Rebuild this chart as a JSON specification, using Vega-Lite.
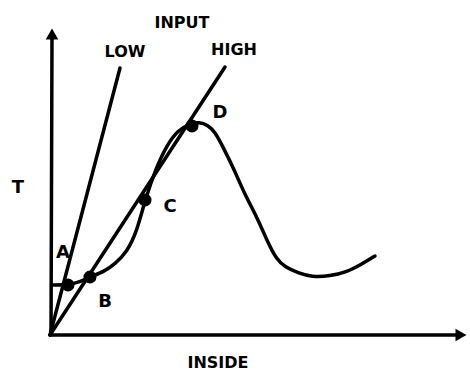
{
  "$schema": "https://vega.github.io/schema/vega-lite/v6.json",
  "width": 470,
  "height": 375,
  "autosize": {"type": "fit", "contains": "padding"},
  "padding": 0,
  "background": "white",
  "config": {"view": {"stroke": null}},
  "datasets": {
    "axes": [
      {"axis": "y", "i": 0, "x": 1, "y": 0},
      {"axis": "y", "i": 1, "x": 2, "y": 298},
      {"axis": "x", "i": 0, "x": 0, "y": 0},
      {"axis": "x", "i": 1, "x": 410, "y": 0}
    ],
    "arrows": [
      {"shape": "triangle-up", "x": 2, "y": 301},
      {"shape": "triangle-right", "x": 411, "y": 0}
    ],
    "rays": [
      {"input": "LOW", "i": 0, "x": 0, "y": 0},
      {"input": "LOW", "i": 1, "x": 70, "y": 267},
      {"input": "HIGH", "i": 0, "x": 0, "y": 0},
      {"input": "HIGH", "i": 1, "x": 175, "y": 268}
    ],
    "curve": [
      {"x": 3, "y": 50},
      {"x": 18, "y": 50},
      {"x": 30, "y": 53},
      {"x": 40, "y": 58},
      {"x": 55, "y": 64},
      {"x": 65, "y": 71},
      {"x": 77, "y": 83},
      {"x": 87, "y": 104},
      {"x": 95, "y": 135},
      {"x": 106, "y": 167},
      {"x": 117, "y": 190},
      {"x": 128, "y": 205},
      {"x": 140, "y": 211},
      {"x": 149, "y": 213},
      {"x": 158, "y": 210},
      {"x": 165, "y": 203},
      {"x": 173, "y": 188},
      {"x": 183, "y": 168},
      {"x": 195, "y": 140},
      {"x": 207, "y": 118},
      {"x": 218, "y": 92},
      {"x": 227, "y": 75},
      {"x": 235, "y": 68},
      {"x": 248, "y": 62},
      {"x": 262, "y": 58},
      {"x": 280, "y": 59},
      {"x": 297, "y": 63},
      {"x": 312, "y": 71},
      {"x": 325, "y": 79}
    ],
    "dots": [
      {"label": "A", "x": 18, "y": 50},
      {"label": "B", "x": 40, "y": 58},
      {"label": "C", "x": 95, "y": 135},
      {"label": "D", "x": 142, "y": 209}
    ],
    "pointLabels": [
      {"label": "A", "x": 13, "y": 82},
      {"label": "B", "x": 55, "y": 33},
      {"label": "C", "x": 120, "y": 128},
      {"label": "D", "x": 170, "y": 222},
      {"label": "T", "x": -32, "y": 147}
    ],
    "titles": [
      {"label": "INPUT", "x": 132, "y": 312},
      {"label": "LOW", "x": 75, "y": 283},
      {"label": "HIGH", "x": 184, "y": 285},
      {"label": "INSIDE", "x": 168, "y": -28}
    ]
  },
  "layer": [
    {
      "data": {"name": "axes"},
      "mark": {"type": "line", "color": "black", "strokeWidth": 3.5, "strokeCap": "round"},
      "encoding": {
        "x": {"field": "x", "type": "quantitative", "scale": {"domain": [-50, 420], "nice": false, "zero": false}, "axis": null},
        "y": {"field": "y", "type": "quantitative", "scale": {"domain": [-40, 335], "nice": false, "zero": false}, "axis": null},
        "detail": {"field": "axis"},
        "order": {"field": "i"}
      }
    },
    {
      "data": {"name": "arrows"},
      "mark": {"type": "point", "filled": true, "color": "black", "opacity": 1, "size": 160},
      "encoding": {
        "x": {"field": "x", "type": "quantitative"},
        "y": {"field": "y", "type": "quantitative"},
        "shape": {"field": "shape", "type": "nominal", "scale": {"domain": ["triangle-up", "triangle-right"], "range": ["triangle-up", "triangle-right"]}, "legend": null}
      }
    },
    {
      "data": {"name": "rays"},
      "mark": {"type": "line", "color": "black", "strokeWidth": 3.5, "strokeCap": "round"},
      "encoding": {
        "x": {"field": "x", "type": "quantitative"},
        "y": {"field": "y", "type": "quantitative"},
        "detail": {"field": "input"},
        "order": {"field": "i"}
      }
    },
    {
      "data": {"name": "curve"},
      "mark": {"type": "line", "color": "black", "strokeWidth": 3.5, "interpolate": "basis", "strokeCap": "round"},
      "encoding": {
        "x": {"field": "x", "type": "quantitative"},
        "y": {"field": "y", "type": "quantitative"},
        "order": {"field": "x"}
      }
    },
    {
      "data": {"name": "dots"},
      "mark": {"type": "circle", "color": "black", "opacity": 1, "size": 170},
      "encoding": {
        "x": {"field": "x", "type": "quantitative"},
        "y": {"field": "y", "type": "quantitative"}
      }
    },
    {
      "data": {"name": "pointLabels"},
      "mark": {"type": "text", "font": "DejaVu Sans", "fontWeight": "bold", "fontSize": 18, "color": "black"},
      "encoding": {
        "x": {"field": "x", "type": "quantitative"},
        "y": {"field": "y", "type": "quantitative"},
        "text": {"field": "label"}
      }
    },
    {
      "data": {"name": "titles"},
      "mark": {"type": "text", "font": "DejaVu Sans", "fontWeight": "bold", "fontSize": 16, "color": "black"},
      "encoding": {
        "x": {"field": "x", "type": "quantitative"},
        "y": {"field": "y", "type": "quantitative"},
        "text": {"field": "label"}
      }
    }
  ]
}
